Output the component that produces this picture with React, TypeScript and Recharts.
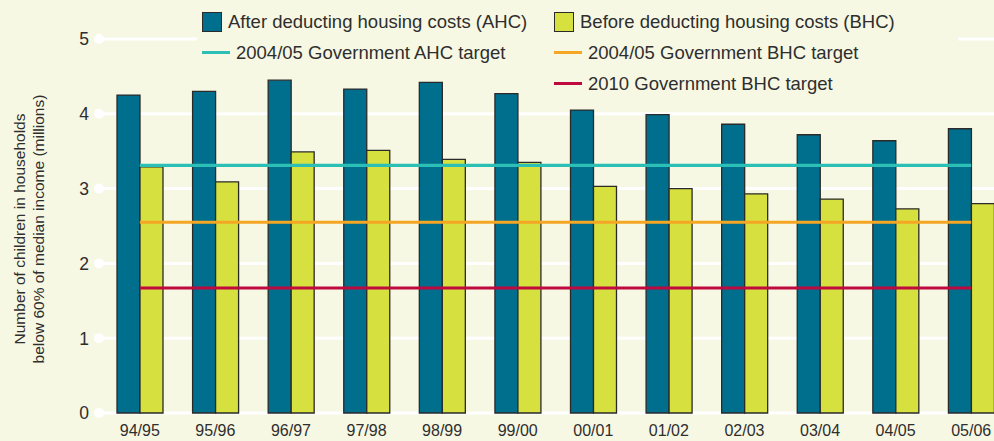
import React from "react";
import { ComposedChart, Bar, Line, XAxis, YAxis, CartesianGrid } from "recharts";

// Children in low-income households, millions
const years = ["94/95", "95/96", "96/97", "97/98", "98/99", "99/00", "00/01", "01/02", "02/03", "03/04", "04/05", "05/06"];
const ahcValues = [4.25, 4.3, 4.45, 4.33, 4.42, 4.27, 4.05, 3.99, 3.86, 3.72, 3.64, 3.8];
const bhcValues = [3.29, 3.09, 3.49, 3.51, 3.39, 3.35, 3.03, 3.0, 2.93, 2.86, 2.73, 2.8];
const ahcTarget2004 = 3.31;
const bhcTarget2004 = 2.55;
const bhcTarget2010 = 1.67;
const yTicks = [0, 1, 2, 3, 4, 5];

const BG = "#f7f8e3";
const TEAL = "#006f8e";
const LIME = "#d6e03e";
const CYAN = "#2bbfb6";
const ORANGE = "#f5a623";
const RED = "#c0093f";
const TEXT = "#2e2e2e";
const FONT = "'Liberation Sans', Arial, Helvetica, sans-serif";

const data = years.map((year, i) => ({
  year,
  ahc: ahcValues[i],
  bhc: bhcValues[i],
  ahcTarget: ahcTarget2004,
  bhcTarget: bhcTarget2004,
  target2010: bhcTarget2010,
}));

// eslint-disable-next-line @typescript-eslint/no-explicit-any
function YTick({ y, payload }: any) {
  return (
    <g>
      <line x1={99} y1={y} x2={104} y2={y} stroke="#ffffff" strokeWidth={3} />
      <circle cx={99} cy={y} r={5} fill="#ffffff" />
      <text x={89} y={y} dy="0.36em" textAnchor="end" fontSize={17.5} fill={TEXT} fontFamily={FONT}>
        {payload.value}
      </text>
    </g>
  );
}

function YLabel() {
  return (
    <g fontFamily={FONT} fontSize={15.5} fill={TEXT} textAnchor="middle">
      <text transform="translate(19,229) rotate(-90)" dy="0.36em">Number of children in households</text>
      <text transform="translate(38,229) rotate(-90)" dy="0.36em">below 60% of median income (millions)</text>
    </g>
  );
}

function SwatchBox({ color }: { color: string }) {
  return <span style={{ display: "inline-block", width: 18, height: 18, background: color, border: "1.3px solid #2a2a2a", marginRight: 6 }} />;
}

function SwatchLine({ color }: { color: string }) {
  return <span style={{ display: "inline-block", width: 28, height: 3, background: color, marginRight: 6, verticalAlign: "middle" }} />;
}

const rowStyle: React.CSSProperties = { display: "flex", alignItems: "center", height: 31, whiteSpace: "nowrap" };

function ChartLegend() {
  return (
    <div style={{ position: "absolute", top: 6, left: 197, display: "flex", fontFamily: FONT, fontSize: 18.5, color: TEXT }}>
      <div style={{ background: BG, paddingLeft: 5, width: 347, height: 62 }}>
        <div style={rowStyle}><SwatchBox color={TEAL} />After deducting housing costs (AHC)</div>
        <div style={rowStyle}><SwatchLine color={CYAN} />2004/05 Government AHC target</div>
      </div>
      <div style={{ background: BG, paddingLeft: 5, width: 404, height: 95 }}>
        <div style={rowStyle}><SwatchBox color={LIME} />Before deducting housing costs (BHC)</div>
        <div style={rowStyle}><SwatchLine color={ORANGE} />2004/05 Government BHC target</div>
        <div style={rowStyle}><SwatchLine color={RED} />2010 Government BHC target</div>
      </div>
    </div>
  );
}

export default function App() {
  return (
    <div style={{ position: "absolute", top: 0, left: 0, width: 994, height: 441, overflow: "hidden", background: BG }}>
      <ComposedChart width={1020} height={441} data={data} margin={{ top: 39, right: 11, left: 0, bottom: 0 }} barGap={0}>
        <CartesianGrid horizontal vertical={false} stroke="#ffffff" strokeWidth={3} />
        <XAxis
          dataKey="year"
          height={28}
          axisLine={false}
          tickLine={false}
          tickMargin={6}
          tick={{ fontSize: 16, fill: TEXT, fontFamily: FONT }}
          interval={0}
        />
        <YAxis
          width={102}
          domain={[0, 5]}
          ticks={yTicks}
          axisLine={false}
          tickLine={false}
          tick={<YTick />}
          label={<YLabel />}
        />
        <Bar dataKey="ahc" barSize={23} fill={TEAL} stroke="#2a2a2a" strokeWidth={1.3} isAnimationActive={false} />
        <Bar dataKey="bhc" barSize={23} fill={LIME} stroke="#2a2a2a" strokeWidth={1.3} isAnimationActive={false} />
        <Line dataKey="ahcTarget" stroke={CYAN} strokeWidth={3.2} dot={false} activeDot={false} isAnimationActive={false} />
        <Line dataKey="bhcTarget" stroke={ORANGE} strokeWidth={3} dot={false} activeDot={false} isAnimationActive={false} />
        <Line dataKey="target2010" stroke={RED} strokeWidth={3} dot={false} activeDot={false} isAnimationActive={false} />
      </ComposedChart>
      <ChartLegend />
    </div>
  );
}
